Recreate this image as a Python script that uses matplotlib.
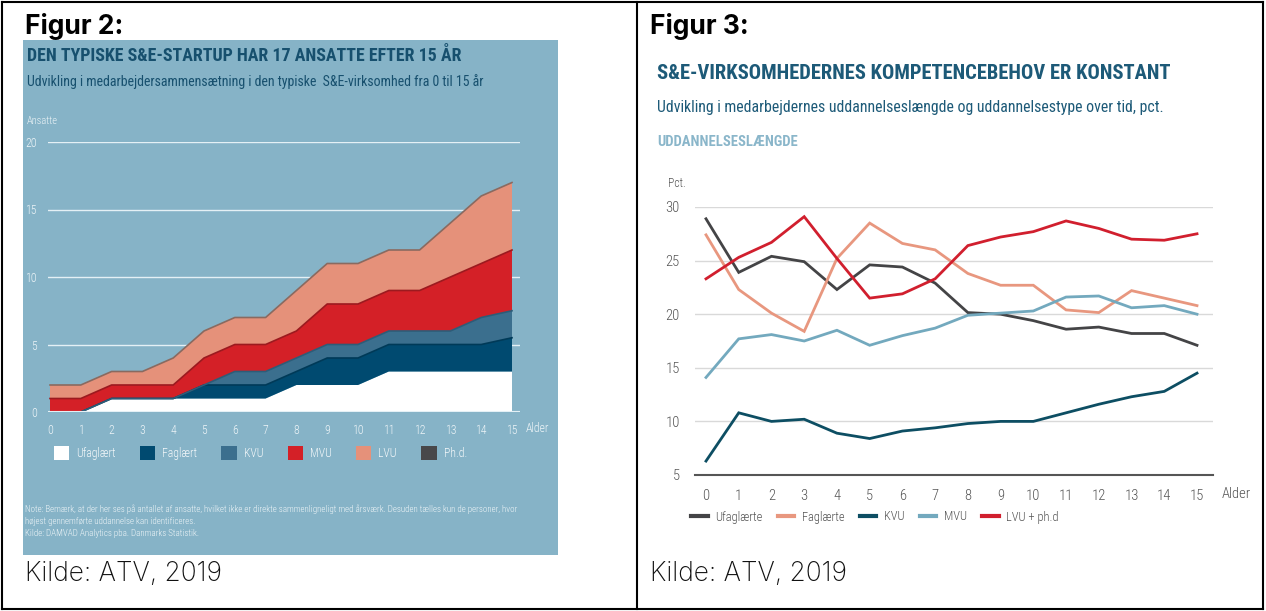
import numpy as np
import matplotlib
matplotlib.use('Agg')
import matplotlib.pyplot as plt
from matplotlib.lines import Line2D
from matplotlib.patches import Rectangle

# Figur 2 data (employees per education layer, by company age)
alder = list(range(16))
ufaglaert = [0, 0, 1, 1, 1, 1, 1, 1, 2, 2, 2, 3, 3, 3, 3, 3]
faglaert = [0, 0, 0, 0, 0, 1, 1, 1, 1, 2, 2, 2, 2, 2, 2, 2.5]
kvu = [0, 0, 0, 0, 0, 0, 1, 1, 1, 1, 1, 1, 1, 1, 2, 2]
mvu = [1, 1, 1, 1, 1, 2, 2, 2, 2, 3, 3, 3, 3, 4, 4, 4.5]
lvu = [1, 1, 1, 1, 2, 2, 2, 2, 3, 3, 3, 3, 3, 4, 5, 5]
phd = [0] * 16
layer_names = ['Ufaglært', 'Faglært', 'KVU', 'MVU', 'LVU', 'Ph.d.']

# Figur 3 data (pct.)
s_ufaglaerte = [28.9, 23.9, 25.4, 24.9, 22.3, 24.6, 24.4, 22.9, 20.15, 20.0, 19.4, 18.6, 18.8, 18.2, 18.2, 17.1]
s_faglaerte = [27.4, 22.3, 20.1, 18.4, 25.2, 28.5, 26.6, 26.0, 23.8, 22.7, 22.7, 20.4, 20.15, 22.2, 21.5, 20.8]
s_kvu = [6.3, 10.8, 10.0, 10.2, 8.9, 8.4, 9.1, 9.4, 9.8, 10.0, 10.0, 10.8, 11.6, 12.3, 12.8, 14.5]
s_mvu = [14.1, 17.7, 18.1, 17.5, 18.5, 17.1, 18.0, 18.7, 19.9, 20.1, 20.3, 21.6, 21.7, 20.6, 20.8, 20.0]
s_lvu = [23.3, 25.3, 26.7, 29.1, 25.2, 21.5, 21.9, 23.3, 26.4, 27.2, 27.7, 28.7, 28.0, 27.0, 26.9, 27.5]
series_names = ['Ufaglærte', 'Faglærte', 'KVU', 'MVU', 'LVU + ph.d']

W, H = 1266, 611
COND = ['Roboto Condensed', 'DejaVu Sans']
WIDE = ['Inter', 'DejaVu Sans']

def fx(x):
    return x / W

def fy(y):
    return 1 - y / H

fig = plt.figure(figsize=(W / 100, H / 100), dpi=100)
fig.patch.set_facecolor('white')

# table borders
for xs, ys in [([2, 2], [2, 609]), ([637, 637], [2, 609]), ([1263, 1263], [2, 609]),
               ([2, 1263], [2, 2]), ([2, 1263], [609, 609])]:
    fig.add_artist(Line2D([fx(v) for v in xs], [fy(v) for v in ys], color='black', lw=1.5))

# ---------- Figur 2 ----------
bg = '#86b3c7'
fig.add_artist(Rectangle((fx(23), fy(555)), fx(558) - fx(23), fy(40) - fy(555),
                         facecolor=bg, edgecolor='none', zorder=0))
fig.text(fx(25), fy(34), 'Figur 2:', fontsize=19, fontweight='bold', family=WIDE)
fig.text(fx(27), fy(61), 'DEN TYPISKE S&E-STARTUP HAR 17 ANSATTE EFTER 15 ÅR',
         fontsize=12.9, fontweight='bold', color='#17506e', family=COND)
fig.text(fx(27), fy(86), 'Udvikling i medarbejdersammensætning i den typiske  S&E-virksomhed fra 0 til 15 år',
         fontsize=10, color='#17506e', family=COND)
fig.text(fx(27), fy(124), 'Ansatte', fontsize=7.5, color='#eef5f8', family=COND, fontweight='light')

ax = fig.add_axes([fx(48), fy(412), fx(520) - fx(48), fy(142) - fy(412)])
ax.set_facecolor('none')
px_unit = (512 - 50) / 15
ax.set_xlim(-(50 - 48) / px_unit, 15 + (520 - 512) / px_unit)
ax.set_ylim(0, 20)
for v in [5, 10, 15, 20]:
    ax.axhline(v, color='#e4f0f5', lw=1.0, zorder=1)
layer_colors = ['#ffffff', '#004a70', '#3b6f8e', '#d42027', '#e5917a', '#48484a']
edge_colors = ['#ffffff', '#003a58', '#2e5c78', '#9c1a1f', '#8a6a60', '#48484a']
polys = ax.stackplot(alder, ufaglaert, faglaert, kvu, mvu, lvu, phd,
                     colors=layer_colors, labels=layer_names, zorder=2)
tops = np.cumsum([ufaglaert, faglaert, kvu, mvu, lvu], axis=0)
for i in range(1, 5):
    ax.plot(alder, tops[i], color=edge_colors[i], lw=1.2, zorder=3)
ax.axhline(0, color='#e4f0f5', lw=1.5, zorder=4)
for s in ax.spines.values():
    s.set_visible(False)
ax.set_xticks(alder)
ax.set_yticks([0, 5, 10, 15, 20])
ax.tick_params(length=0, colors='#eef5f8', labelsize=8.5, pad=8)
ax.tick_params(axis='x', pad=9)
for lab in ax.get_xticklabels() + ax.get_yticklabels():
    lab.set_family(COND)
    lab.set_fontweight('light')
fig.text(fx(526), fy(432), 'Alder', fontsize=8.5, color='#eef5f8', family=COND, fontweight='light')

leg = fig.legend(handles=polys, labels=layer_names, loc='center left',
                 bbox_to_anchor=(fx(43), fy(453)), ncol=6, frameon=False,
                 handlelength=1.3, handleheight=1.5, handletextpad=0.6,
                 columnspacing=2.05, prop={'family': COND, 'size': 8.5, 'weight': 'light'})
for t in leg.get_texts():
    t.set_color('#f4f8fa')

note = ['Note: Bemærk, at der her ses på antallet af ansatte, hvilket ikke er direkte sammenligneligt med årsværk. Desuden tælles kun de personer, hvor',
        'højest gennemførte uddannelse kan identificeres.',
        'Kilde: DAMVAD Analytics pba. Danmarks Statistik.']
for i, line in enumerate(note):
    fig.text(fx(25), fy(512 + 12 * i), line, fontsize=6.5, color='#eef5f8', family=COND, fontweight='light')

fig.text(fx(25), fy(581), 'Kilde: ATV, 2019', fontsize=19, family=WIDE, fontweight='light', color='#111111')

# ---------- Figur 3 ----------
fig.text(fx(650), fy(34), 'Figur 3:', fontsize=19, fontweight='bold', family=WIDE)
fig.text(fx(657), fy(79), 'S&E-VIRKSOMHEDERNES KOMPETENCEBEHOV ER KONSTANT',
         fontsize=14.8, fontweight='bold', color='#1d5a78', family=COND)
fig.text(fx(657), fy(112), 'Udvikling i medarbejdernes uddannelseslængde og uddannelsestype over tid, pct.',
         fontsize=11.4, color='#1d5a78', family=COND)
fig.text(fx(657), fy(146), 'UDDANNELSESLÆNGDE', fontsize=10.5, fontweight='bold',
         color='#8ab6ca', family=COND)
fig.text(fx(668), fy(187), 'Pct.', fontsize=8.5, color='#555555', family=COND, fontweight='light')

ax2 = fig.add_axes([fx(695), fy(475), fx(1213) - fx(695), fy(207) - fy(475)])
px2 = (1197 - 706) / 15
ax2.set_xlim(-(706 - 695) / px2, 15 + (1213 - 1197) / px2)
ax2.set_ylim(5, 30)
ax2.set_yticks([5, 10, 15, 20, 25, 30])
ax2.set_xticks(alder)
ax2.grid(axis='y', color='#d9d9d9', lw=1)
ax2.set_axisbelow(True)
for k in ['top', 'right', 'left']:
    ax2.spines[k].set_visible(False)
ax2.spines['bottom'].set_color('#555555')
ax2.spines['bottom'].set_linewidth(1.5)
ax2.tick_params(length=0, colors='#555555', labelsize=10.5)
ax2.tick_params(axis='y', pad=11)
ax2.tick_params(axis='x', pad=10)
for lab in ax2.get_xticklabels() + ax2.get_yticklabels():
    lab.set_family(COND)
    lab.set_fontweight('light')
fig.text(fx(1222), fy(498), 'Alder', fontsize=10.5, color='#555555', family=COND, fontweight='light')

line_colors = ['#444446', '#e8977f', '#0d4e63', '#73a9be', '#d11f2e']
for vals, c, name in zip([s_ufaglaerte, s_faglaerte, s_kvu, s_mvu, s_lvu], line_colors, series_names):
    ax2.plot(alder, vals, color=c, lw=2.0, label=name, solid_joinstyle='miter')

leg2 = ax2.legend(loc='center left', bbox_to_anchor=(fx(680), fy(517)),
                  bbox_transform=fig.transFigure, ncol=5, frameon=False,
                  handlelength=1.3, handletextpad=0.6, columnspacing=1.25,
                  prop={'family': COND, 'size': 9, 'weight': 'light'})
for t in leg2.get_texts():
    t.set_color('#555555')
for l in leg2.get_lines():
    l.set_linewidth(3)

fig.text(fx(650), fy(581), 'Kilde: ATV, 2019', fontsize=19, family=WIDE, fontweight='light', color='#111111')

fig.savefig('out.png', dpi=100)
